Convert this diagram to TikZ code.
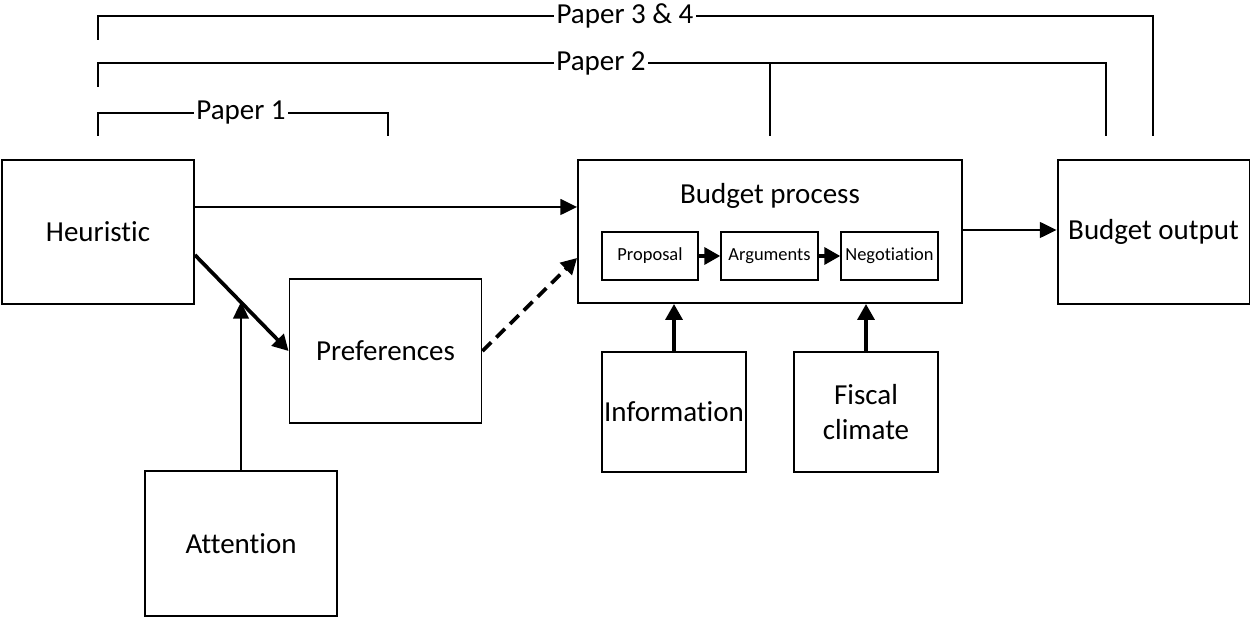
\documentclass[tikz,border=0pt]{standalone}
\usepackage{fontspec}
\setmainfont{Carlito}[Ligatures=NoCommon]
\usepackage{tikz}
\usetikzlibrary{arrows.meta}

\tikzset{
  box/.style={draw, line width=1.1pt, minimum width=3.84cm, minimum height=2.88cm,
    inner sep=0pt, align=center, font=\fontsize{16.5}{20}\selectfont},
  subbox/.style={draw, line width=1.1pt, minimum width=1.93cm, minimum height=0.96cm,
    inner sep=0pt, font=\fontsize{10.5}{12}\selectfont},
  paper/.style={fill=white, inner sep=1.5pt, font=\fontsize{16.5}{20}\selectfont},
  arr/.style={-{Triangle[length=9.5pt,width=9pt]}, line width=1.1pt},
  thickarr/.style={-{Triangle[length=9pt,width=9.5pt]}, line width=2.1pt},
}

\begin{document}
\begin{tikzpicture}[x=0.02cm, y=-0.02cm]
    \useasboundingbox (0,0) rectangle (1250,617);
    % boxes
    \node[box] (heur) at (98, 232) {Heuristic};
    \node[box] (pref) at (385.5, 351) {Preferences};
    \node[box, minimum height=2.9cm] (att) at (241, 543.5) {Attention};
    \node[box, minimum width=7.68cm, minimum height=2.86cm] (bp) at (770, 231.5) {};
    \node[font=\fontsize{16.5}{20}\selectfont] (bptitle) at (770, 196) {Budget process};
    \node[subbox] (prop) at (650, 256) {Proposal};
    \node[subbox] (arg) at (769.5, 256) {Arguments};
    \node[subbox] (neg) at (889.5, 256) {Negotiation};
    \node[box, minimum width=2.88cm, minimum height=2.4cm] (info) at (674, 412) {Information};
    \node[box, minimum width=2.88cm, minimum height=2.4cm] (fisc) at (866, 412) {Fiscal\\climate};
    \node[box] (out) at (1153.5, 232) {Budget output};
    % arrows
    \coordinate (hit) at (241, 302);
    \draw[arr] (heur.east |- 0,207) -- (bp.west |- 0,207);
    \draw[thickarr] (heur.east |- 0,255) -- (pref.west);
    \draw[arr] (att.north) -- (hit);
    \draw[thickarr, dashed, dash pattern=on 7pt off 4pt] (pref.east) -- (bp.west |- 0,258);
    \draw[thickarr] (prop) -- (arg);
    \draw[thickarr] (arg) -- (neg);
    \draw[thickarr] (info.north) -- (info.north |- bp.south);
    \draw[thickarr] (fisc.north) -- (fisc.north |- bp.south);
    \draw[arr] (bp.east |- 0,230) -- (out.west |- 0,230);
    % papers
    \draw[line width=1.1pt] (98,136) -- (98,113) -- (388,113) -- (388,136);
    \node[paper] (p1) at (241,113) {Paper 1};
    \draw[line width=1.1pt] (98,87) -- (98,63) -- (1106,63) -- (1106,136);
    \draw[line width=1.1pt] (770,63) -- (770,136);
    \node[paper] (p2) at (601,63) {Paper 2};
    \draw[line width=1.1pt] (98,40) -- (98,16) -- (1153,16) -- (1153,136);
    \node[paper] (p34) at (625,16) {Paper 3 \& 4};
\end{tikzpicture}
\end{document}
